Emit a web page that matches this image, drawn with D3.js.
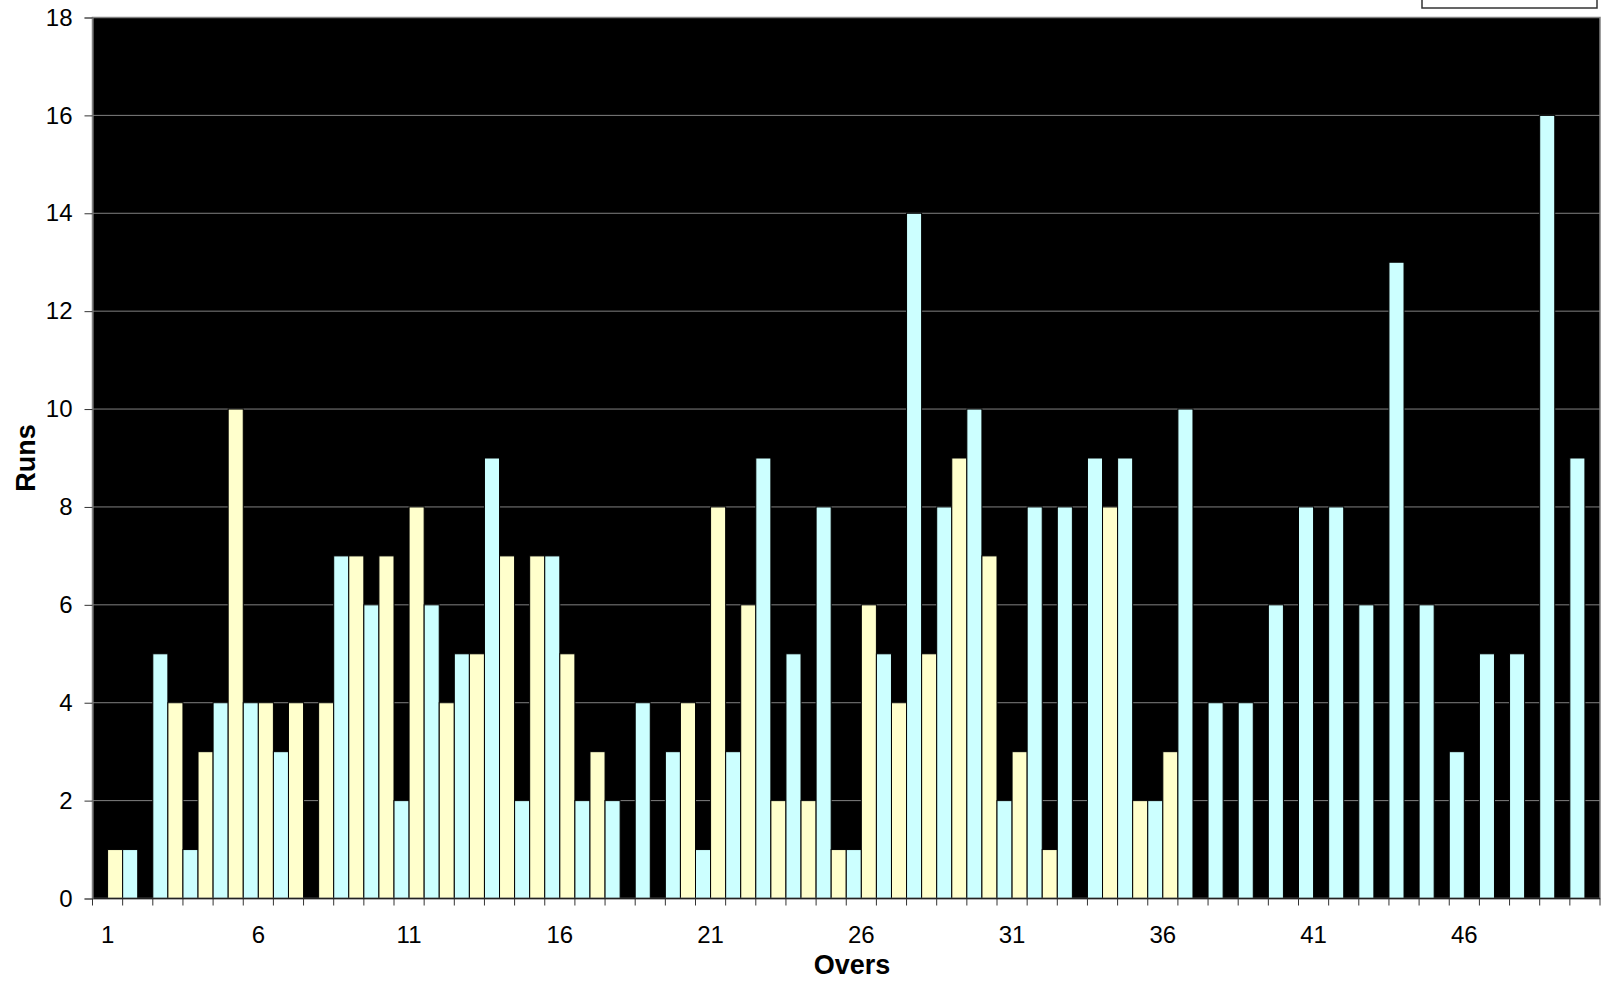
<!DOCTYPE html>
<html>
<head>
<meta charset="utf-8">
<script src="https://cdn.jsdelivr.net/npm/d3@7"></script>
<style>
    body { margin: 0; background: #fff; }
    text { font-family: "Liberation Sans", Arial, sans-serif; }
</style>
</head>
<body>
<svg id="chart" width="1618" height="985"></svg>
<script>
// runs per over, two innings
const overs = d3.range(1, 51);
const series_names = ['first', 'second'];
const first_runs = [0, 1, 5, 1, 4, 4, 3, 0, 7, 6, 2, 6, 5, 9, 2, 7, 2, 2, 4, 3,
    1, 3, 9, 5, 8, 1, 5, 14, 8, 10, 2, 8, 8, 9, 9, 2, 10, 4, 4, 6,
    8, 8, 6, 13, 6, 3, 5, 5, 16, 9];
const second_runs = [1, 0, 4, 3, 10, 4, 4, 4, 7, 7, 8, 4, 5, 7, 7, 5, 3, 0, 0, 4,
    8, 6, 2, 2, 1, 6, 4, 5, 9, 7, 3, 1, 0, 8, 2, 3];
const y_ticks = [0, 2, 4, 6, 8, 10, 12, 14, 16, 18];
const x_labels = [1, 6, 11, 16, 21, 26, 31, 36, 41, 46];
const colors = {first: '#ccffff', second: '#ffffcc'};

const margin = {top: 17.5, right: 18, bottom: 86.5, left: 92.5};
const svg = d3.select('#chart');
const width = +svg.attr('width') - margin.left - margin.right;
const height = +svg.attr('height') - margin.top - margin.bottom;

const g = svg.append('g')
    .attr('transform', 'translate(' + margin.left + ',' + margin.top + ')');

let x = d3.scaleBand().domain(overs).range([0, width]).padding(0);
let xs = d3.scaleBand().domain(series_names).range([0, x.bandwidth()]).padding(0);
let y = d3.scaleLinear().domain([0, 18]).range([height, 0]);

// plot background
g.append('rect')
    .attr('width', width)
    .attr('height', height)
    .attr('fill', '#000');

// grid lines
g.append('g').selectAll('line')
    .data(y_ticks.filter(d => d > 0 && d < 18))
    .enter().append('line')
    .attr('x1', 0).attr('x2', width)
    .attr('y1', d => y(d)).attr('y2', d => y(d))
    .attr('stroke', '#808080')
    .attr('stroke-width', 1);

// bars
let rows = [];
overs.forEach(function (o, i) {
    if (first_runs[i] !== undefined) rows.push({over: o, key: 'first', value: first_runs[i]});
    if (second_runs[i] !== undefined) rows.push({over: o, key: 'second', value: second_runs[i]});
});

g.append('g').selectAll('rect')
    .data(rows.filter(d => d.value > 0))
    .enter().append('rect')
    .attr('x', d => x(d.over) + xs(d.key))
    .attr('y', d => y(d.value))
    .attr('width', xs.bandwidth())
    .attr('height', d => y(0) - y(d.value))
    .attr('fill', d => colors[d.key])
    .attr('stroke', '#000')
    .attr('stroke-width', 1);

// plot border
g.append('rect')
    .attr('width', width)
    .attr('height', height)
    .attr('fill', 'none')
    .attr('stroke', '#808080')
    .attr('stroke-width', 1.5);

// base line
g.append('line')
    .attr('x1', 0).attr('x2', width)
    .attr('y1', height).attr('y2', height)
    .attr('stroke', '#222')
    .attr('stroke-width', 1.5);

// y axis
let yAxis = d3.axisLeft(y)
    .tickValues(y_ticks)
    .tickSize(8)
    .tickPadding(12);

let yg = g.append('g').call(yAxis);
yg.select('.domain').attr('stroke', '#808080');
yg.selectAll('.tick line').attr('stroke', '#333');
yg.selectAll('.tick text')
    .attr('font-size', 24)
    .attr('fill', '#000');

// x tick marks on category boundaries
g.append('g').selectAll('line')
    .data(overs.map(o => x(o)).concat([width]))
    .enter().append('line')
    .attr('x1', d => d).attr('x2', d => d)
    .attr('y1', height).attr('y2', height + 7)
    .attr('stroke', '#333');

// x labels
let xAxis = d3.axisBottom(x)
    .tickValues(x_labels)
    .tickSize(0)
    .tickPadding(27);

let xg = g.append('g')
    .attr('transform', 'translate(0,' + height + ')')
    .call(xAxis);
xg.select('.domain').remove();
xg.selectAll('.tick text')
    .attr('font-size', 24)
    .attr('fill', '#000');

// axis titles
svg.append('text')
    .attr('x', 852)
    .attr('y', 974)
    .attr('text-anchor', 'middle')
    .attr('font-size', 27)
    .attr('font-weight', 'bold')
    .text('Overs');

svg.append('text')
    .attr('transform', 'translate(35,' + (margin.top + height / 2) + ') rotate(-90)')
    .attr('text-anchor', 'middle')
    .attr('font-size', 27)
    .attr('font-weight', 'bold')
    .text('Runs');

// legend box, cut off at the top edge
svg.append('rect')
    .attr('x', 1422)
    .attr('y', -10)
    .attr('width', 175)
    .attr('height', 18)
    .attr('fill', '#fff')
    .attr('stroke', '#333')
    .attr('stroke-width', 1.5);
</script>
</body>
</html>
